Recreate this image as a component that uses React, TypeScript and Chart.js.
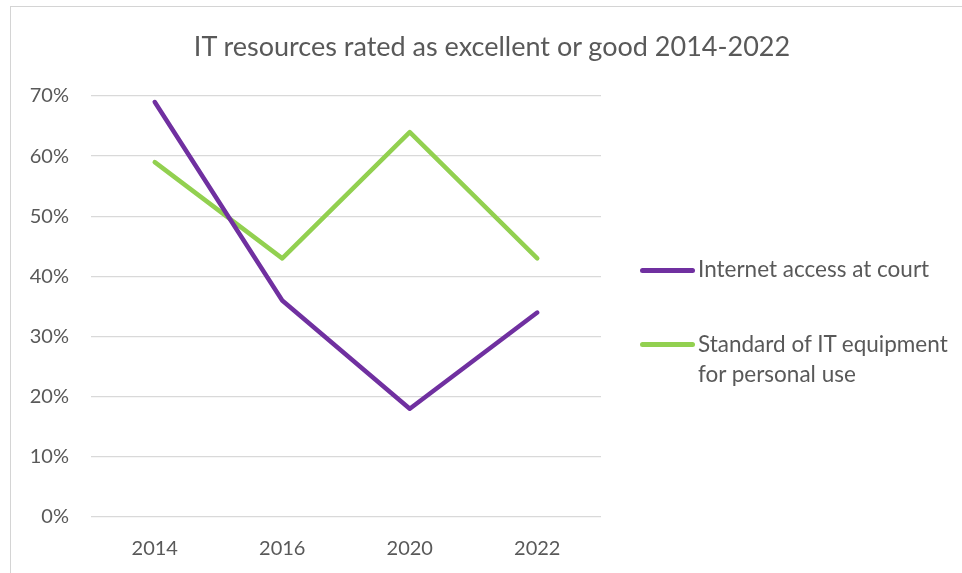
import React, { useEffect, useRef } from "react";
import { Chart, registerables } from "chart.js";

Chart.register(...registerables);

const categories = ["2014", "2016", "2020", "2022"];
const internetAccess = [69, 36, 18, 34];
const itEquipment = [59, 43, 64, 43];
const yTicks = [0, 10, 20, 30, 40, 50, 60, 70];
const titleText = "IT resources rated as excellent or good 2014-2022";
const seriesNames = ["Internet access at court", "Standard of IT equipment for personal use"];

const PURPLE = "#7030A0";
const GREEN = "#92D050";
const TEXT = "#595959";
const FONT = "Lato, 'Open Sans', sans-serif";

export default function App() {
  const ref = useRef<HTMLCanvasElement | null>(null);

  useEffect(() => {
    if (!ref.current) return;
    const chart = new Chart(ref.current, {
      type: "line",
      data: {
        labels: categories,
        datasets: [
          {
            label: seriesNames[0],
            data: internetAccess,
            borderColor: PURPLE,
            backgroundColor: PURPLE,
            borderWidth: 4.5,
            pointRadius: 0,
            tension: 0,
            borderCapStyle: "round",
            borderJoinStyle: "round",
          },
          {
            label: seriesNames[1],
            data: itEquipment,
            borderColor: GREEN,
            backgroundColor: GREEN,
            borderWidth: 4.5,
            pointRadius: 0,
            tension: 0,
            borderCapStyle: "round",
            borderJoinStyle: "round",
          },
        ],
      },
      options: {
        animation: false,
        responsive: false,
        devicePixelRatio: 1,
        layout: { padding: { left: 0, right: 361, top: 96, bottom: 0 } },
        plugins: {
          legend: { display: false },
          title: { display: false },
          tooltip: { enabled: false },
        },
        scales: {
          x: {
            type: "category",
            offset: true,
            grid: { display: false, drawTicks: false },
            border: { display: false },
            ticks: {
              color: TEXT,
              font: { family: FONT, size: 20 },
              padding: 20,
            },
            afterFit: (s: any) => {
              s.height = 56;
            },
          },
          y: {
            min: 0,
            max: 70,
            afterBuildTicks: (s: any) => {
              s.ticks = yTicks.map((v) => ({ value: v }));
            },
            grid: { color: "#D9D9D9", lineWidth: 1.3, drawTicks: false },
            border: { display: false },
            ticks: {
              color: TEXT,
              font: { family: FONT, size: 20 },
              padding: 22,
              callback: (v: any) => v + "%",
            },
            afterFit: (s: any) => {
              s.width = 91;
            },
          },
        },
      },
    });
    return () => chart.destroy();
  }, []);

  return (
    <div
      style={{
        position: "absolute",
        left: 0,
        top: 0,
        width: 962,
        height: 573,
        overflow: "hidden",
        background: "#fff",
        fontFamily: FONT,
      }}
    >
      <div
        style={{
          position: "absolute",
          left: 10,
          top: 6,
          width: 1000,
          height: 700,
          border: "1px solid #D4D4D4",
        }}
      />
      <canvas
        ref={ref}
        width={962}
        height={573}
        style={{ position: "absolute", left: 0, top: 0, width: 962, height: 573 }}
      />
      <div
        style={{
          position: "absolute",
          left: 0,
          width: 984,
          top: 29,
          lineHeight: "34px",
          fontSize: 27,
          color: TEXT,
          textAlign: "center",
          whiteSpace: "nowrap",
        }}
      >
        {titleText}
      </div>
      <div style={{ position: "absolute", left: 640, top: 268, width: 55, height: 5, borderRadius: 3, background: PURPLE }} />
      <div
        style={{ position: "absolute", left: 698, top: 254, fontSize: 22.5, lineHeight: "30px", color: TEXT, whiteSpace: "nowrap" }}
      >
        {seriesNames[0]}
      </div>
      <div style={{ position: "absolute", left: 640, top: 342, width: 55, height: 5, borderRadius: 3, background: GREEN }} />
      <div
        style={{ position: "absolute", left: 698, top: 329, width: 262, fontSize: 22.5, lineHeight: "30px", color: TEXT }}
      >
        {seriesNames[1]}
      </div>
    </div>
  );
}
